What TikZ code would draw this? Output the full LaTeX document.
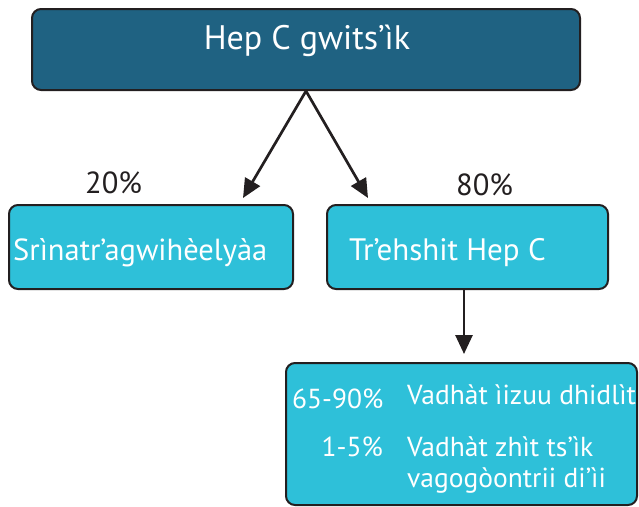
\documentclass[tikz,border=0pt]{standalone}
\usepackage{fontspec}
\setmainfont{PT Sans}
\usetikzlibrary{positioning, arrows.meta}
\definecolor{hepdark}{HTML}{1F6282}
\definecolor{hepcyan}{HTML}{2EC0D9}
\definecolor{hepline}{HTML}{231F20}

\begin{document}
\begin{tikzpicture}[x=1pt, y=-1pt, font=\fontsize{27.5}{32}\selectfont,
    box/.style={draw=hepline, line width=2pt, rounded corners=9pt, inner sep=0pt},
    arrow/.style={draw=hepline, line width=2.7pt, -{Triangle[width=17pt,length=19pt]}},
    boxtext/.style={text=white, anchor=base west, inner sep=0pt},
    pct/.style={text=hepline, anchor=base west, inner sep=0pt, font=\fontsize{30.5}{34}\selectfont}]
    \useasboundingbox (0,0) rectangle (639,506);

    % Boxes
    \node[box, fill=hepdark, minimum width=548pt, minimum height=81pt] (gwits) at (306,49.5) {};
    \node[box, fill=hepcyan, minimum width=284pt, minimum height=84pt] (srinatr) at (151,247) {};
    \node[box, fill=hepcyan, minimum width=281pt, minimum height=84pt] (trehshit) at (467.5,247) {};
    \node[box, fill=hepcyan, minimum width=351pt, minimum height=142pt] (chronic) at (461.5,434) {};

    % Texts
    \node[boxtext, anchor=base, font=\fontsize{34}{38}\selectfont] (gwitstext) at (307,49) {Hep C gwitsʼìk};
    \node[boxtext, font=\fontsize{30.5}{34}\selectfont] (srinatrtext) at (13,260) {Srìnatr’agwihèelyàa};
    \node[boxtext, font=\fontsize{31}{35}\selectfont] (trehshittext) at (349,260) {Tr’ehshit Hep C};
    \node[pct] (twenty) at (85,193) {20\%};
    \node[pct] (eighty) at (456,195) {80\%};
    \node[boxtext] (highpct) at (292,408) {65-90\%};
    \node[boxtext] (highrow) at (407,404) {Vadhàt ìizuu dhidlìt};
    \node[boxtext, anchor=base east] (lowpct) at (383,456) {1-5\%};
    \node[boxtext] (lowrow) at (407,456) {Vadhàt zhìt tsʼìk};
    \node[boxtext] (lowrowb) at (407,487) {vagogòontrii diʼìi};

    % Arrows
    \coordinate (lefttip) at (243,198);
    \coordinate (righttip) at (368,198);
    \draw[arrow] (gwits.south) -- (lefttip);
    \draw[arrow] (gwits.south) -- (righttip);
    \draw[arrow, shorten >=8pt] ([xshift=-3.5pt]trehshit.south) -- ([xshift=-3.5pt]trehshit.south |- chronic.north);
\end{tikzpicture}
\end{document}
